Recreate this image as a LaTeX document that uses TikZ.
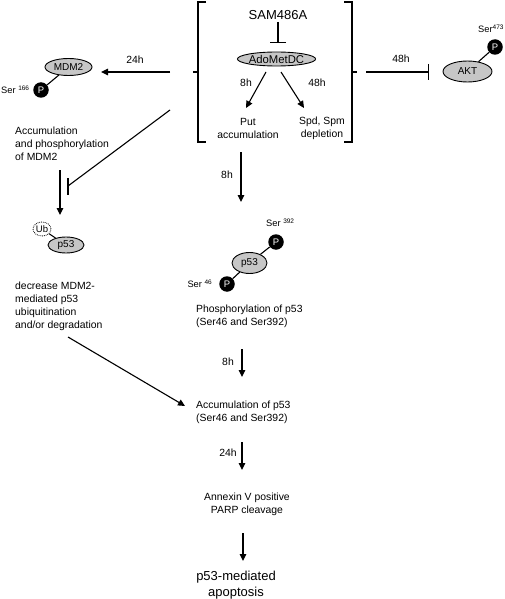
\documentclass[tikz,border=0pt]{standalone}
\usepackage{fontspec}
\setmainfont{Liberation Sans}
\usetikzlibrary{arrows.meta,shapes.geometric}
\tikzset{
  arr/.style={line width=1.1pt,-{Triangle[length=7pt,width=6.5pt]}},
  inh/.style={line width=1.1pt,-{Bar[width=16pt]}},
  plain/.style={line width=1.1pt},
  gell/.style={ellipse,draw,line width=0.9pt,fill=gray!45,inner sep=0pt,font=\fontsize{10}{10}\selectfont},
  pcirc/.style={circle,fill=black,text=white,minimum size=15.5pt,inner sep=0pt,font=\fontsize{9.5}{9.5}\selectfont},
  txt/.style={inner sep=0pt,font=\fontsize{10.4}{12.9}\selectfont},
  sertxt/.style={inner sep=0pt,font=\fontsize{9.3}{9.3}\selectfont},
  big/.style={inner sep=0pt,font=\fontsize{13}{15.5}\selectfont},
}
\newcommand{\supnum}[1]{\raisebox{3pt}{\fontsize{6.5}{6.5}\selectfont #1}}
\begin{document}
\begin{tikzpicture}[x=1pt,y=-1pt]
\useasboundingbox (0,0) rectangle (505,599);

% ---- bracket ----
\coordinate (bl1) at (206,2); \coordinate (bl2) at (198,2);
\coordinate (bl3) at (198,142); \coordinate (bl4) at (206,142);
\coordinate (blt) at (198,72); \coordinate (blo) at (193,72);
\coordinate (br1) at (344,2); \coordinate (br2) at (352,2);
\coordinate (br3) at (352,142); \coordinate (br4) at (344,142);
\coordinate (brt) at (352,72); \coordinate (bro) at (357,72);
\draw[plain] (bl1) -- (bl2) -- (bl3) -- (bl4);
\draw[plain] (blt) -- (blo);
\draw[plain] (br1) -- (br2) -- (br3) -- (br4);
\draw[plain] (brt) -- (bro);

% ---- inside bracket ----
\node[inner sep=0pt,font=\fontsize{13}{13}\selectfont] (sam) at (278,15) {SAM486A};
\node[gell,minimum width=72,minimum height=14,font=\fontsize{11.3}{11.3}\selectfont] (ado) at (276.5,59) {AdoMetDC};
\coordinate (sambot) at (278,22); \coordinate (inhtop) at (278,43);
\draw[inh] (sambot) -- (inhtop);
\coordinate (a1s) at (266,72); \coordinate (a1e) at (246,108);
\coordinate (a2s) at (281,72); \coordinate (a2e) at (304,108);
\draw[arr] (a1s) -- (a1e);
\draw[arr] (a2s) -- (a2e);
\node[txt] (l8a) at (246,83) {8h};
\node[txt] (l48a) at (317,83) {48h};
\node[txt,align=center] (put) at (248,128.5) {Put\\accumulation};
\node[txt,align=center] (spd) at (322,128.5) {Spd, Spm\\depletion};

% ---- left branch ----
\coordinate (m1s) at (170,72); \coordinate (m1e) at (101,72);
\draw[arr] (m1s) -- (m1e);
\node[txt] (l24a) at (135,60) {24h};
\node[gell,minimum width=47,minimum height=17] (mdm2) at (68.5,67) {MDM2};
\node[pcirc] (pm) at (41,90) {P};
\draw[plain] (pm) -- (mdm2);
\node[sertxt,anchor=west] (ser166) at (1,90) {Ser \supnum{166}};
\node[txt,anchor=west,align=left] (accm) at (15,143.5) {Accumulation\\and phosphorylation\\of MDM2};
\coordinate (d1s) at (170,110); \coordinate (d1e) at (68,186);
\coordinate (bar1) at (68,178); \coordinate (bar2) at (68,195);
\draw[plain] (d1s) -- (d1e);
\draw[plain] (bar1) -- (bar2);
\coordinate (v1s) at (60,170); \coordinate (v1e) at (60,215);
\draw[arr] (v1s) -- (v1e);
\node[ellipse,draw,densely dotted,line width=0.8pt,fill=white,minimum width=18,minimum height=14,inner sep=0pt,font=\fontsize{9.5}{9.5}\selectfont] (ub) at (42,229) {Ub};
\node[gell,minimum width=36,minimum height=16] (p53l) at (66,245) {p53};
\draw[plain] (ub) -- (p53l);
\node[txt,anchor=west,align=left] (decr) at (15,306) {decrease MDM2-\\mediated p53\\ubiquitination\\and/or degradation};
\coordinate (dgs) at (68,337); \coordinate (dge) at (185,406);
\draw[arr] (dgs) -- (dge);

% ---- center column ----
\coordinate (c1s) at (241,152); \coordinate (c1e) at (241,202);
\draw[arr] (c1s) -- (c1e);
\node[txt] (l8b) at (227,175) {8h};
\node[gell,minimum width=35,minimum height=21] (p53c) at (249.5,263) {p53};
\node[pcirc] (pt) at (276,242) {P};
\node[pcirc] (pb) at (227,284) {P};
\draw[plain] (pt) -- (p53c);
\draw[plain] (pb) -- (p53c);
\node[sertxt,anchor=west] (ser392) at (266,223) {Ser \supnum{392}};
\node[sertxt,anchor=east] (ser46) at (212,284) {Ser \supnum{46}};
\node[txt,anchor=west,align=left] (phos) at (196,316.5) {Phosphorylation of p53\\(Ser46 and Ser392)};
\coordinate (c2s) at (242,349); \coordinate (c2e) at (242,377);
\draw[arr] (c2s) -- (c2e);
\node[txt] (l8c) at (228,362) {8h};
\node[txt,anchor=west,align=left] (accp) at (196,412) {Accumulation of p53\\(Ser46 and Ser392)};
\coordinate (c3s) at (242,442); \coordinate (c3e) at (242,470);
\draw[arr] (c3s) -- (c3e);
\node[txt] (l24b) at (228,453) {24h};
\node[txt,align=center] (annex) at (247,504) {Annexin V positive\\PARP cleavage};
\coordinate (c4s) at (243,533); \coordinate (c4e) at (243,561);
\draw[arr] (c4s) -- (c4e);
\node[big,align=center] (apop) at (236,585) {p53-mediated\\apoptosis};

% ---- right branch ----
\coordinate (r1s) at (366,72); \coordinate (r1e) at (429,72);
\draw[inh] (r1s) -- (r1e);
\node[txt] (l48b) at (401,59) {48h};
\node[gell,minimum width=49,minimum height=21] (akt) at (467.5,71.5) {AKT};
\node[pcirc] (pa) at (495,47) {P};
\draw[plain] (pa) -- (akt);
\node[sertxt,anchor=west] (ser473) at (478,29) {Ser\supnum{473}};
\end{tikzpicture}
\end{document}
